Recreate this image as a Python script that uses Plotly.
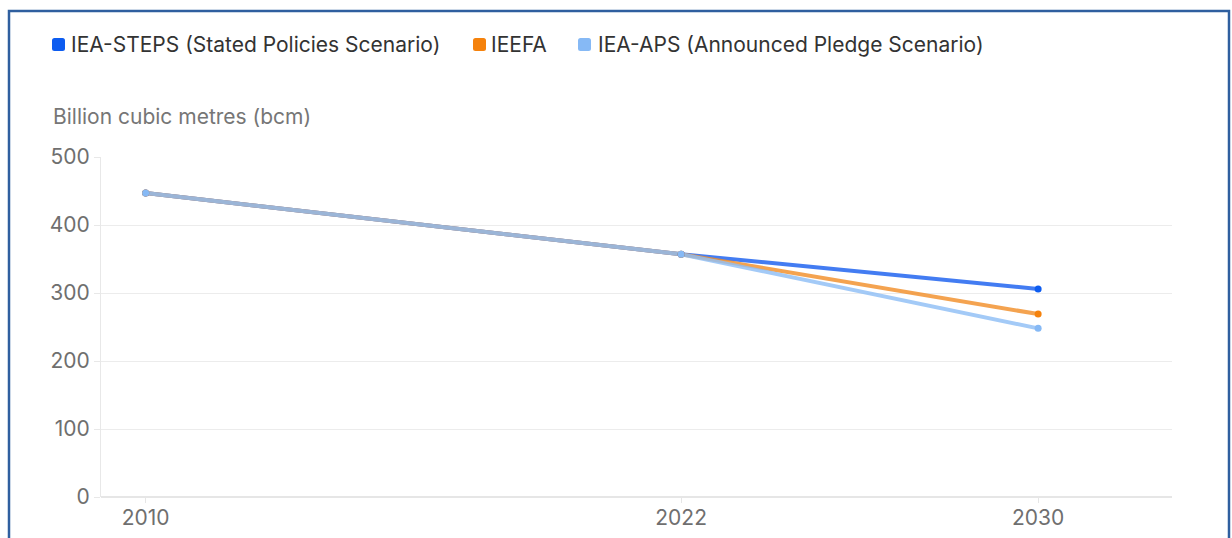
import plotly.graph_objects as go

# Gas demand outlook, billion cubic metres
years = [2010, 2022, 2030]
steps = [447, 357, 306]
ieefa = [447, 357, 269]
aps = [447, 357, 248]

series_names = [
    "IEA-STEPS (Stated Policies Scenario)",
    "IEEFA",
    "IEA-APS (Announced Pledge Scenario)",
]
series_values = [steps, ieefa, aps]
line_colors = ["#1a60f0", "#f28f2a", "#8fbff6"]
marker_colors = ["#0d5cf0", "#f5820c", "#86b9f5"]

y_ticks = [0, 100, 200, 300, 400, 500]
x_ticks = [2010, 2022, 2030]

W, H = 1232, 538
L, R, T, B = 101, 60, 157, 41
PW, PH = W - L - R, H - T - B


def px_x(px):
    return (px - L) / PW


def px_y(py):
    return (H - B - py) / PH


FONT = "Inter, Roboto, sans-serif"

fig = go.Figure()
for name, vals, lc, mc in zip(series_names, series_values, line_colors, marker_colors):
    fig.add_trace(go.Scatter(
        x=years, y=vals, name=name, mode="lines",
        line=dict(color=lc, width=4), opacity=0.82,
        showlegend=False, hoverinfo="skip",
    ))
for name, vals, mc in zip(series_names, series_values, marker_colors):
    fig.add_trace(go.Scatter(
        x=years, y=vals, name=name, mode="markers",
        marker=dict(color=mc, size=7),
        showlegend=False,
    ))

# Legend row: rounded swatches and labels
legend_swatch_x = [52, 473, 578]
legend_text_x = [69, 489, 596]
shapes = []
annotations = []
for name, mc, sx, tx in zip(series_names, marker_colors, legend_swatch_x, legend_text_x):
    x0, x1 = px_x(sx), px_x(sx + 13)
    y0, y1 = px_y(51), px_y(38)
    r = 2.5 / PW
    ry = 2.5 / PH
    path = (
        f"M {x0 + r},{y1} L {x1 - r},{y1} Q {x1},{y1} {x1},{y1 - ry} "
        f"L {x1},{y0 + ry} Q {x1},{y0} {x1 - r},{y0} L {x0 + r},{y0} "
        f"Q {x0},{y0} {x0},{y0 + ry} L {x0},{y1 - ry} Q {x0},{y1} {x0 + r},{y1} Z"
    )
    shapes.append(dict(type="path", xref="paper", yref="paper", path=path,
                       fillcolor=mc, line=dict(width=0)))
    annotations.append(dict(
        xref="paper", yref="paper", x=px_x(tx), y=px_y(44),
        xanchor="left", yanchor="middle", showarrow=False,
        text=name, font=dict(family=FONT, size=21, color="#333333"),
    ))

annotations.append(dict(
    xref="paper", yref="paper", x=px_x(51), y=px_y(116),
    xanchor="left", yanchor="middle", showarrow=False,
    text="Billion cubic metres (bcm)",
    font=dict(family=FONT, size=21, color="#767676"),
))

# Outer frame
shapes.append(dict(
    type="rect", xref="paper", yref="paper",
    x0=px_x(9), x1=px_x(1229), y0=px_y(560), y1=px_y(11),
    line=dict(color="#2f5f9f", width=2.5), fillcolor="rgba(0,0,0,0)",
    layer="below",
))

fig.update_layout(
    width=W, height=H,
    margin=dict(l=L, r=R, t=T, b=B, pad=0),
    paper_bgcolor="white", plot_bgcolor="white",
    font=dict(family=FONT, color="#6f6f6f"),
    showlegend=False,
    shapes=shapes, annotations=annotations,
    xaxis=dict(
        range=[2009, 2033], tickvals=x_ticks, ticktext=[str(v) for v in x_ticks],
        showgrid=False, zeroline=False, showline=False, automargin=False,
        ticks="outside", ticklen=5, tickcolor="#e6e6e6", ticklabelstandoff=-3,
        tickfont=dict(family=FONT, size=21, color="#6f6f6f"),
    ),
    yaxis=dict(
        range=[0, 500], tickvals=y_ticks, automargin=False,
        showgrid=True, gridcolor="#ececec", gridwidth=1,
        zeroline=True, zerolinecolor="#e6e6e6", zerolinewidth=1.5,
        showline=True, linecolor="#e8e8e8", linewidth=1,
        ticks="outside", ticklen=6, tickcolor="#e8e8e8",
        tickfont=dict(family=FONT, size=21, color="#6f6f6f"),
    ),
)

fig.write_html("out.html")
